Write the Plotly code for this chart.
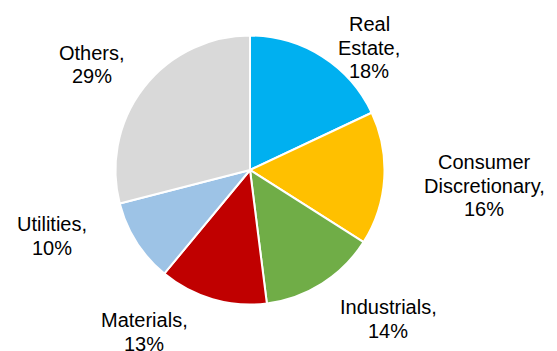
import plotly.graph_objects as go

# ---- data ----
sectors = ["Real Estate", "Consumer Discretionary", "Industrials", "Materials", "Utilities", "Others"]
shares = [18, 16, 14, 13, 10, 29]
colors = ["#00B0F0", "#FFC000", "#70AD47", "#C00000", "#9DC3E6", "#D9D9D9"]

# label line breaks (how the category text wraps) and label anchor (center x, first baseline y) in pixels
label_lines = {
    "Real Estate": ["Real", "Estate,"],
    "Consumer Discretionary": ["Consumer", "Discretionary,"],
    "Industrials": ["Industrials,"],
    "Materials": ["Materials,"],
    "Utilities": ["Utilities,"],
    "Others": ["Others,"],
}
label_pos = {
    "Real Estate": (369, 31.5),
    "Consumer Discretionary": (484, 169.5),
    "Industrials": (388, 314.5),
    "Materials": (144, 327.5),
    "Utilities": (52, 231.5),
    "Others": (92, 60),
}

W, H = 557, 351
cx, cy, r = 250, 170, 134.5
FS = 20
LINE = 23.5

fig = go.Figure()
fig.add_trace(go.Pie(
    labels=sectors,
    values=shares,
    marker=dict(colors=colors, line=dict(color="white", width=2)),
    sort=False,
    direction="clockwise",
    rotation=0,
    textinfo="none",
    hoverinfo="label+percent",
    showlegend=False,
    domain=dict(x=[(cx - r) / W, (cx + r) / W], y=[1 - (cy + r) / H, 1 - (cy - r) / H]),
))

annotations = []
for name, val in zip(sectors, shares):
    lines = label_lines[name] + [f"{val}%"]
    x0, y0 = label_pos[name]
    for i, ln in enumerate(lines):
        base = y0 + i * LINE
        mid = base - 0.36 * FS  # approximate vertical middle of capitals
        annotations.append(dict(
            text=ln, x=x0 / W, y=1 - mid / H, xref="paper", yref="paper",
            xanchor="center", yanchor="middle", showarrow=False,
            font=dict(family="Liberation Sans, Arial, sans-serif", size=FS, color="#000000"),
        ))

fig.update_layout(
    width=W, height=H,
    margin=dict(l=0, r=0, t=0, b=0),
    paper_bgcolor="white", plot_bgcolor="white",
    annotations=annotations,
)

fig.write_html("out.html")
